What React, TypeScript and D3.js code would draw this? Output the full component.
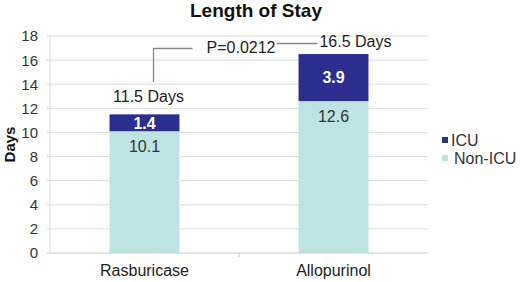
import * as d3 from "d3";

const categories = ["Rasburicase", "Allopurinol"];
const nonIcu = [10.1, 12.6];
const icu = [1.4, 3.9];
const totalLabels = ["11.5 Days", "16.5 Days"];
const yTicks = [0, 2, 4, 6, 8, 10, 12, 14, 16, 18];
const pValue = "P=0.0212";

const W = 520;
const H = 282;
const margin = { top: 36, right: 92, bottom: 29, left: 50 };

const ICU_COLOR = "#2b2d8f";
const NON_ICU_COLOR = "#bde3e3";
const font = "Arial, 'Liberation Sans', sans-serif";

export default function App() {
  const x = d3
    .scaleBand<string>()
    .domain(categories)
    .range([margin.left, W - margin.right])
    .paddingInner(0.63)
    .paddingOuter(0.315);
  const y = d3.scaleLinear().domain([0, 18]).range([H - margin.bottom, margin.top]);
  const bw = x.bandwidth();

  const rows = categories.map((c, i) => ({
    c,
    non: nonIcu[i],
    icu: icu[i],
    total: nonIcu[i] + icu[i],
    label: totalLabels[i],
  }));

  const x0 = x(categories[0])! + bw / 2;
  const x1 = x(categories[1])! + bw / 2;

  return (
    <svg
      width={W}
      height={H}
      style={{ position: "absolute", left: 0, top: 0, background: "#fff" }}
      fontFamily={font}
    >
      <text x={256} y={17} textAnchor="middle" fontSize={19} fontWeight="bold" fill="#111">
        Length of Stay
      </text>

      {/* grid */}
      {yTicks.map((t) => (
        <g key={t}>
          {t > 0 && (
            <line
              x1={margin.left}
              x2={W - margin.right}
              y1={y(t)}
              y2={y(t)}
              stroke="#dcdcdc"
              strokeWidth={1}
            />
          )}
          <line x1={margin.left - 3} x2={margin.left} y1={y(t)} y2={y(t)} stroke="#cfcfcf" />
          <text x={38} y={y(t)} dy="0.36em" textAnchor="end" fontSize={15} fill="#333">
            {t}
          </text>
        </g>
      ))}
      <line
        x1={margin.left}
        x2={margin.left}
        y1={y(0)}
        y2={y(18)}
        stroke="#dedede"
      />
      <line
        x1={margin.left}
        x2={W - margin.right}
        y1={y(0)}
        y2={y(0)}
        stroke="#c8c8c8"
      />
      <line
        x1={(x0 + x1) / 2}
        x2={(x0 + x1) / 2}
        y1={y(0)}
        y2={y(0) + 4}
        stroke="#c8c8c8"
      />

      <text
        transform={`translate(15,${(y(0) + y(18)) / 2}) rotate(-90)`}
        textAnchor="middle"
        fontSize={15}
        fontWeight="bold"
        fill="#111"
      >
        Days
      </text>

      {/* bars */}
      {rows.map((d) => (
        <g key={d.c}>
          <rect
            x={x(d.c)}
            y={y(d.non)}
            width={bw}
            height={y(0) - y(d.non)}
            fill={NON_ICU_COLOR}
          />
          <rect
            x={x(d.c)}
            y={y(d.total)}
            width={bw}
            height={y(d.non) - y(d.total)}
            fill={ICU_COLOR}
          />
          <text
            x={x(d.c)! + bw / 2}
            y={(y(d.non) + y(d.total)) / 2}
            dy="0.36em"
            textAnchor="middle"
            fontSize={16}
            fontWeight="bold"
            fill="#fff"
          >
            {d.icu}
          </text>
          <text
            x={x(d.c)! + bw / 2}
            y={y(d.non) + 15}
            dy="0.36em"
            textAnchor="middle"
            fontSize={16}
            fill="#333"
          >
            {d.non}
          </text>
          <text
            x={x(d.c)! + bw / 2}
            y={H - 6}
            textAnchor="middle"
            fontSize={16}
            fill="#222"
          >
            {d.c}
          </text>
        </g>
      ))}

      {/* total labels */}
      <text x={x0 + 4} y={102} textAnchor="middle" fontSize={16} fill="#222">
        {rows[0].label}
      </text>
      <text x={x1 + 22} y={47} textAnchor="middle" fontSize={16} fill="#222">
        {rows[1].label}
      </text>

      {/* significance bracket */}
      <path
        d={`M${x0 + 9},82 V48.5 H${x0 + 48}`}
        fill="none"
        stroke="#888"
        strokeWidth={1.3}
      />
      <path
        d={`M${x1 - 57},43.5 H${x1 - 16}`}
        fill="none"
        stroke="#888"
        strokeWidth={1.3}
      />
      <text x={241} y={47} dy="0.36em" textAnchor="middle" fontSize={16} fill="#222">
        {pValue}
      </text>

      {/* legend */}
      <rect x={442} y={137} width={6} height={6} fill={ICU_COLOR} />
      <text x={451} y={140} dy="0.36em" fontSize={16} fill="#333">
        ICU
      </text>
      <rect x={442} y={155} width={6} height={6} fill={NON_ICU_COLOR} />
      <text x={454} y={158} dy="0.36em" fontSize={16} fill="#333">
        Non-ICU
      </text>
    </svg>
  );
}
